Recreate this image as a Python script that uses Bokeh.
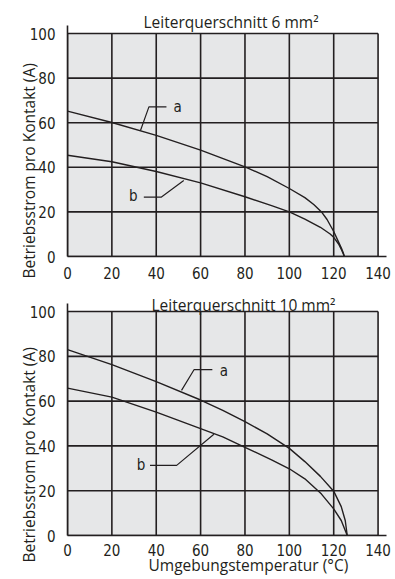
from bokeh.plotting import figure
from bokeh.models import Range1d, Title, FixedTicker
from bokeh.layouts import column
from bokeh.core.properties import value
from bokeh.embed import file_html
from bokeh.resources import INLINE

# ---------------- data ----------------
x_ticks = [0, 20, 40, 60, 80, 100, 120, 140]
y_ticks = [0, 20, 40, 60, 80, 100]
x_tick_labels = ["0", "20", "40", "60", "80", "100", "120", "140"]
y_tick_labels = ["0", "20", "40", "60", "80", "100"]

title_6 = "Leiterquerschnitt 6 mm²"
title_10 = "Leiterquerschnitt 10 mm²"
y_label = "Betriebsstrom pro Kontakt (A)"
x_label = "Umgebungstemperatur (°C)"

# 6 mm² curves
a6_x = [0, 20, 40, 60, 80, 90, 100, 107, 111, 114.5, 117, 120, 122, 123.5, 124.3, 124.8]
a6_y = [65.2, 60.1, 54.3, 47.7, 40.2, 35.8, 30.5, 26.4, 23.3, 20.0, 16.6, 11.2, 6.9, 3.7, 1.7, 0]
b6_x = [0, 20, 40, 60, 80, 92, 100, 107, 114, 118.4, 120, 122.2, 123.5, 124.3, 124.8]
b6_y = [45.4, 42.5, 38.1, 33.0, 26.8, 22.8, 20.0, 16.8, 13.1, 10.1, 8.6, 5.6, 3.0, 1.2, 0]

# 10 mm² curves
a10_x = [0, 20, 40, 60, 70, 80, 90, 100, 107, 114, 120, 123.4, 125.2, 126.1]
a10_y = [83.0, 76.3, 68.7, 60.5, 55.9, 50.8, 45.4, 38.9, 33.0, 26.4, 19.8, 12.9, 6.7, 0]
b10_x = [0, 20, 40, 60, 70, 80, 92, 100, 107, 114.4, 120, 123.4, 126.1]
b10_y = [65.8, 61.8, 55.1, 47.7, 44.0, 39.4, 33.8, 29.8, 25.3, 18.6, 11.9, 6.7, 0]

# leader lines and labels (a, b)
a6_lead_x = [44.6, 36.7, 32.9]
a6_lead_y = [67.1, 67.1, 56.5]
b6_lead_x = [34.4, 42.2, 52.4]
b6_lead_y = [26.6, 26.6, 34.1]
a10_lead_x = [65.3, 57.1, 51.4]
a10_lead_y = [74.1, 74.1, 64.8]
b10_lead_x = [37.2, 49.2, 66.0]
b10_lead_y = [31.3, 31.3, 45.2]
curve_names = ["a", "b"]

# ---------------- style ----------------
INK = "#231f20"
GRAY = "#e6e7e8"
X_MAX = 143.8
Y_MAX = 103.6
NARROW = "DejaVu Sans Condensed, Liberation Sans, sans-serif"
SANS = "Open Sans"
LABEL_SIZE = "15.5px"


def panel(title, title_off, title_stand, ylab_off, ax, ay, bx, by, alx, aly, blx, bly,
          a_pos, b_pos, height, left, top, bottom, right, xtick_standoff, xlab_off=None):
    p = figure(width=395, height=height, output_backend="svg", toolbar_location=None,
               x_range=Range1d(0, X_MAX), y_range=Range1d(0, Y_MAX), title=None,
               min_border_left=left, min_border_right=right,
               min_border_top=top, min_border_bottom=bottom)
    p.outline_line_color = None
    p.background_fill_color = "white"
    p.border_fill_color = "white"
    p.grid.visible = False

    # gray plotting box and black grid
    p.quad(left=min(x_ticks), right=max(x_ticks), bottom=min(y_ticks), top=max(y_ticks),
           fill_color=GRAY, line_color=None)
    n = len(x_ticks)
    p.segment(x0=x_ticks, y0=[min(y_ticks)] * n, x1=x_ticks, y1=[max(y_ticks)] * n,
              line_color=INK, line_width=1.6)
    m = len(y_ticks)
    p.segment(x0=[min(x_ticks)] * m, y0=y_ticks, x1=[max(x_ticks)] * m, y1=y_ticks,
              line_color=INK, line_width=1.6)

    # curves
    p.line(ax, ay, line_color=INK, line_width=1.4)
    p.line(bx, by, line_color=INK, line_width=1.4)
    p.line(alx, aly, line_color=INK, line_width=1.2)
    p.line(blx, bly, line_color=INK, line_width=1.2)
    p.text(x=[a_pos[0], b_pos[0]], y=[a_pos[1], b_pos[1]], text=curve_names,
           text_font=value(NARROW), text_font_size="15px", text_color=INK,
           text_align="center", text_baseline="middle")

    # axes
    for ax_ in (p.xaxis[0], p.yaxis[0]):
        ax_.axis_line_color = INK
        ax_.axis_line_width = 1.6
        ax_.major_tick_in = 0
        ax_.major_tick_out = 0
        ax_.minor_tick_in = 0
        ax_.minor_tick_out = 0
        ax_.major_label_text_font = NARROW
        ax_.major_label_text_font_size = "15px"
        ax_.major_label_text_color = INK
    p.yaxis.ticker = FixedTicker(ticks=y_ticks)
    p.yaxis.major_label_overrides = {t: s for t, s in zip(y_ticks, y_tick_labels)}
    p.yaxis.major_label_standoff = 12
    p.xaxis.ticker = FixedTicker(ticks=x_ticks)
    p.xaxis.major_label_overrides = {t: s for t, s in zip(x_ticks, x_tick_labels)}
    p.xaxis.major_label_standoff = xtick_standoff

    p.add_layout(Title(text=title, align="left", offset=title_off, standoff=title_stand,
                       text_font=SANS, text_font_size=LABEL_SIZE, text_font_style="normal",
                       text_color=INK), "above")
    p.add_layout(Title(text=y_label, align="left", offset=ylab_off, standoff=-26,
                       text_font=SANS, text_font_size=LABEL_SIZE, text_font_style="normal",
                       text_color=INK), "left")
    if xlab_off is not None:
        p.add_layout(Title(text=x_label, align="left", offset=xlab_off, standoff=-10,
                           vertical_align="top",
                           text_font=SANS, text_font_size=LABEL_SIZE, text_font_style="normal",
                           text_color=INK), "below")
    return p


p1 = panel(title_6, 76, -14, -22, a6_x, a6_y, b6_x, b6_y,
           a6_lead_x, a6_lead_y, b6_lead_x, b6_lead_y, (49.7, 67.1), (29.7, 27.0),
           height=288, left=67, top=25, bottom=32, right=8, xtick_standoff=10)
p2 = panel(title_10, 84, -24, -27, a10_x, a10_y, b10_x, b10_y,
           a10_lead_x, a10_lead_y, b10_lead_x, b10_lead_y, (70.5, 73.3), (33.2, 31.3),
           height=291, left=64, top=15, bottom=44, right=9, xtick_standoff=8, xlab_off=81)

layout = column(p1, p2, spacing=0)
open("out.html", "w").write(file_html(layout, INLINE))
